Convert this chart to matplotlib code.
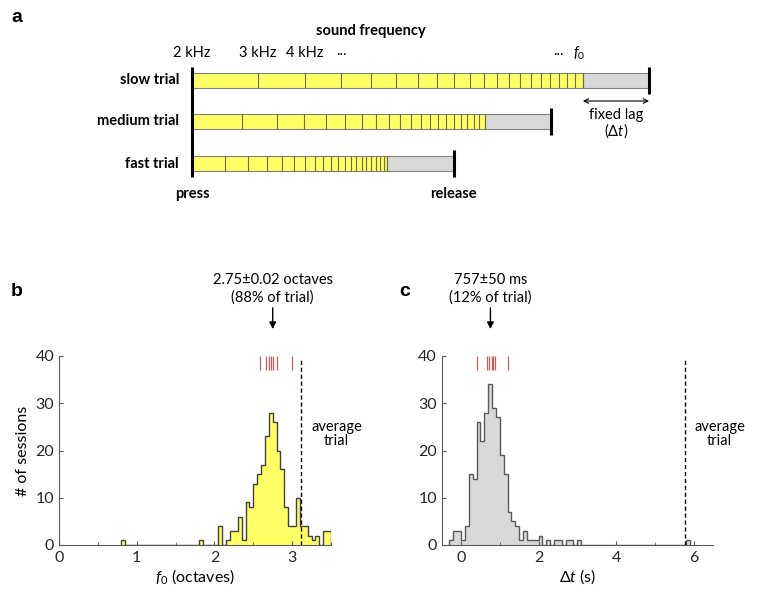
import numpy as np
import matplotlib
matplotlib.use("Agg")
import matplotlib.pyplot as plt
from matplotlib.patches import Rectangle
from matplotlib.ticker import MultipleLocator

plt.rcParams["font.family"] = ["Lato", "DejaVu Sans"]
plt.rcParams["mathtext.fontset"] = "custom"
plt.rcParams["mathtext.rm"] = "Lato"
plt.rcParams["mathtext.it"] = "Lato:italic"

# ---- panel a: schematic of the frequency sweep ----
SWEEP_KHZ = [2, 3, 4, 5, 6, 7, 8, 9, 10, 11, 12, 13, 14, 15, 16, 17, 18, 19, 20, 21, 22]
TRIAL_NAMES = ["slow trial", "medium trial", "fast trial"]
TIME_PER_OCTAVE = [1.0, 0.75, 0.5]   # relative to the slow trial
FIXED_LAG = 0.585                     # same units (time of one slow octave)

# ---- panel b: f0 histogram ----
F0_FIRST_EDGE, F0_BIN = 0.80, 0.05
F0_COUNTS = [1] + [0] * 19 + [1, 0, 0, 0, 0, 4, 0, 1, 3, 3, 6, 1, 9, 8, 13, 15, 17,
                              23, 28, 26, 20, 16, 8, 4, 4, 10, 4, 4, 2, 1, 2, 0, 3, 3]
F0_MEAN = 2.75
F0_SESSION_MEDIANS = [2.59, 2.67, 2.70, 2.73, 2.76, 2.80, 3.00]
F0_AVG_TRIAL = 3.11

# ---- panel c: delta-t histogram ----
DT_FIRST_EDGE, DT_BIN = -0.3, 0.1
DT_COUNTS = [1, 3, 3, 1, 4, 15, 14, 26, 22, 28, 34, 29, 27, 19, 15, 7, 5, 4, 1, 3,
             1, 1, 1, 2, 0, 1, 0, 1, 1, 0, 1, 1, 0, 1] + [0] * 27 + [1]
DT_MEAN = 0.757
DT_SESSION_MEDIANS = [0.41, 0.68, 0.73, 0.79, 0.83, 0.88, 1.20]
DT_AVG_TRIAL = 5.78

YELLOW = "#ffff66"
GREY = "#d9d9d9"
TICK_RED = "#cd5c5c"

W, H = 758, 598
fig = plt.figure(figsize=(W / 100, H / 100), dpi=100)

# ---------------- panel a ----------------
ax_a = fig.add_axes([0, 1 - 205 / H, 1, 205 / H])
ax_a.set_xlim(-192 / 113, (W - 192) / 113)
ax_a.set_ylim(205, 0)
ax_a.axis("off")

row_y = [80, 121, 163.5]
half = 7.5
octaves = np.log2(np.array(SWEEP_KHZ) / SWEEP_KHZ[0])
for name, tpo, y in zip(TRIAL_NAMES, TIME_PER_OCTAVE, row_y):
    t = octaves * tpo
    end = t[-1]
    ax_a.add_patch(Rectangle((0, y - half), end, 2 * half, facecolor=YELLOW,
                             edgecolor="#808080", lw=0.8))
    ax_a.add_patch(Rectangle((end, y - half), FIXED_LAG, 2 * half, facecolor=GREY,
                             edgecolor="#808080", lw=0.8))
    ax_a.vlines(t[1:], y - half, y + half, color="#6e6e46", lw=0.8)
    ax_a.plot([end + FIXED_LAG] * 2, [y - 13.5, y + 13.5], color="k", lw=2.2,
              solid_capstyle="butt")
    ax_a.text(-0.115, y, name, ha="right", va="center", fontsize=10.5,
              fontweight="bold")

ax_a.plot([0, 0], [67, 177], color="k", lw=2.2, solid_capstyle="butt")

ax_a.text(1.58, 31, "sound frequency", ha="center", va="center", fontsize=10.5,
          fontweight="bold")
for f in SWEEP_KHZ[:3]:
    ax_a.text(np.log2(f / SWEEP_KHZ[0]), 53, f"{f} kHz", ha="center", va="center",
              fontsize=10.5)
ax_a.text(np.log2(5 / 2), 51, "...", ha="center", va="center", fontsize=10.5)
slow_end = octaves[-1] * TIME_PER_OCTAVE[0]
ax_a.text(slow_end - 0.22, 51, "...", ha="center", va="center", fontsize=10.5)
ax_a.text(slow_end - 0.03, 53, r"$f_0$", ha="center", va="center", fontsize=10.5)

ax_a.annotate("", xy=(slow_end, 101), xytext=(slow_end + FIXED_LAG, 101),
              arrowprops=dict(arrowstyle="<->", lw=0.8, color="k",
                              shrinkA=0, shrinkB=0, mutation_scale=8))
ax_a.text(slow_end + FIXED_LAG / 2, 115, "fixed lag", ha="center", va="center",
          fontsize=10.5)
ax_a.text(slow_end + FIXED_LAG / 2, 131, r"($\Delta t$)", ha="center", va="center",
          fontsize=10.5)

fast_end = octaves[-1] * TIME_PER_OCTAVE[2] + FIXED_LAG
ax_a.text(0, 194, "press", ha="center", va="center", fontsize=10.5, fontweight="bold")
ax_a.text(fast_end, 194, "release", ha="center", va="center", fontsize=10.5,
          fontweight="bold")


# ---------------- panels b, c ----------------
def hist_panel(ax, counts, first_edge, width, fill, edge):
    edges = first_edge + width * np.arange(len(counts) + 1)
    ax.stairs(counts, edges, fill=True, color=fill, lw=0)
    ax.stairs(counts, edges, color=edge, lw=1.0, baseline=0)
    ax.set_ylim(0, 40)
    ax.yaxis.set_major_locator(MultipleLocator(10))
    for s in ["top", "right"]:
        ax.spines[s].set_visible(False)
    for s in ["left", "bottom"]:
        ax.spines[s].set_color("#595959")
        ax.spines[s].set_linewidth(0.8)
    ax.tick_params(which="both", direction="in", color="#595959", labelsize=11.5,
                   labelcolor="#262626")
    ax.tick_params(which="major", length=3)
    ax.tick_params(which="minor", length=2)
    ax.tick_params(axis="x", pad=4)


ax_b = fig.add_axes([59 / W, 1 - 545 / H, 272 / W, 189 / H])
hist_panel(ax_b, F0_COUNTS, F0_FIRST_EDGE, F0_BIN, YELLOW, "#404040")
ax_b.set_xlim(0, 3.5)
ax_b.xaxis.set_major_locator(MultipleLocator(1))
ax_b.xaxis.set_minor_locator(MultipleLocator(0.5))
ax_b.vlines(F0_SESSION_MEDIANS, 37, 40, color=TICK_RED, lw=0.9)
ax_b.plot([F0_AVG_TRIAL] * 2, [0, 39.6], color="k", lw=1, ls=(0, (3, 2)))
ax_b.text(3.57, 23.5, "average\ntrial", ha="center", va="center", fontsize=10.5,
          linespacing=1.0)
ax_b.set_xlabel(r"$f_0$ (octaves)", fontsize=11.5, labelpad=2)
ax_b.set_ylabel("# of sessions", fontsize=11.5, labelpad=4)
ax_b.annotate("", xy=(F0_MEAN, 45.7), xytext=(F0_MEAN, 50.2), annotation_clip=False,
              arrowprops=dict(arrowstyle="-|>", color="k", lw=1, mutation_scale=10,
                              shrinkA=0, shrinkB=0))
ax_b.text(F0_MEAN, 54.3, "2.75±0.02 octaves\n(88% of trial)", ha="center",
          va="center", fontsize=10.5, linespacing=1.3, clip_on=False)

ax_c = fig.add_axes([441.7 / W, 1 - 545 / H, 271.3 / W, 189 / H])
hist_panel(ax_c, DT_COUNTS, DT_FIRST_EDGE, DT_BIN, GREY, "#595959")
ax_c.set_xlim(-0.5, 6.5)
ax_c.xaxis.set_major_locator(MultipleLocator(2))
ax_c.xaxis.set_minor_locator(MultipleLocator(1))
ax_c.vlines(DT_SESSION_MEDIANS, 37, 40, color=TICK_RED, lw=0.9)
ax_c.plot([DT_AVG_TRIAL] * 2, [0, 39.6], color="k", lw=1, ls=(0, (3, 2)))
ax_c.text(6.67, 23.5, "average\ntrial", ha="center", va="center", fontsize=10.5,
          linespacing=1.0)
ax_c.set_xlabel(r"$\Delta t$ (s)", fontsize=11.5, labelpad=2)
ax_c.annotate("", xy=(DT_MEAN, 45.7), xytext=(DT_MEAN, 50.2), annotation_clip=False,
              arrowprops=dict(arrowstyle="-|>", color="k", lw=1, mutation_scale=10,
                              shrinkA=0, shrinkB=0))
ax_c.text(DT_MEAN, 54.3, "757±50 ms\n(12% of trial)", ha="center", va="center",
          fontsize=10.5, linespacing=1.3, clip_on=False)

for lab, x, y in [("a", 17, 17), ("b", 17, 292), ("c", 405, 292)]:
    fig.text(x / W, 1 - y / H, lab, ha="center", va="center", fontsize=14,
             fontweight="bold", family="Liberation Sans")

fig.savefig("out.png", dpi=100)
